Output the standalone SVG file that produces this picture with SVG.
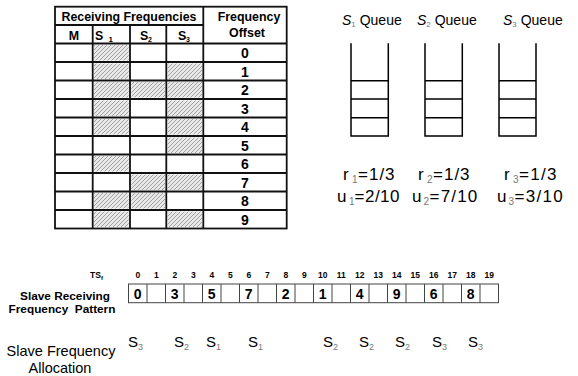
<svg xmlns="http://www.w3.org/2000/svg" width="578" height="376" viewBox="0 0 578 376">
<defs>
<pattern id="hatch" width="4" height="4" patternUnits="userSpaceOnUse">
<rect width="4" height="4" fill="#e8e8e8"/>
<path d="M-1,1 L1,-1 M0,4 L4,0 M3,5 L5,3" stroke="#9a9a9a" stroke-width="0.9"/>
</pattern>
<style>
text{font-family:"Liberation Sans",Arial,sans-serif;fill:#000}
.b{font-weight:bold}
.tl{stroke:#111;stroke-width:1.8;fill:none}
.q{stroke:#000;stroke-width:1.5;fill:none}
.h{fill:url(#hatch)}
.sub{fill:#777}
.cell{fill:#fff;stroke:#444;stroke-width:1}
</style>
</defs>
<rect width="578" height="376" fill="#fff"/>

<g id="table">
<g id="hatches">
<rect class="h" x="94" y="45" width="34.7" height="15.5"/>
<rect class="h" x="94" y="63.5" width="34.7" height="15.5"/>
<rect class="h" x="94" y="82" width="34.7" height="15.5"/>
<rect class="h" x="94" y="100.5" width="34.7" height="15.5"/>
<rect class="h" x="94" y="119" width="34.7" height="15.5"/>
<rect class="h" x="94" y="156" width="34.7" height="15.5"/>
<rect class="h" x="94" y="193" width="34.7" height="15.5"/>
<rect class="h" x="94" y="211.5" width="34.7" height="15.5"/>
<rect class="h" x="131.3" y="82" width="33.7" height="15.5"/>
<rect class="h" x="131.3" y="174.5" width="33.7" height="15.5"/>
<rect class="h" x="131.3" y="193" width="33.7" height="15.5"/>
<rect class="h" x="167.6" y="63.5" width="34.4" height="15.5"/>
<rect class="h" x="167.6" y="82" width="34.4" height="15.5"/>
<rect class="h" x="167.6" y="100.5" width="34.4" height="15.5"/>
<rect class="h" x="167.6" y="119" width="34.4" height="15.5"/>
<rect class="h" x="167.6" y="137.5" width="34.4" height="15.5"/>
<rect class="h" x="167.6" y="174.5" width="34.4" height="15.5"/>
<rect class="h" x="167.6" y="211.5" width="34.4" height="15.5"/>
</g>
<rect class="tl" x="55" y="6.7" width="231.7" height="221.8"/>
<path class="tl" d="M55,25 H203.3 M55,43.5 H286.7 M55,62 H286.7 M55,80.5 H286.7 M55,99 H286.7 M55,117.5 H286.7 M55,136 H286.7 M55,154.5 H286.7 M55,173 H286.7 M55,191.5 H286.7 M55,210 H286.7 M92.7,25 V228.5 M130,25 V228.5 M166.3,25 V228.5 M203.3,6.7 V228.5"/>
<text class="b" x="129" y="21" font-size="12.4" text-anchor="middle">Receiving Frequencies</text>
<text class="b" x="74" y="39.5" font-size="12.4" text-anchor="middle">M</text>
<text class="b" x="95" y="39.5" font-size="12.4">S<tspan x="108.5" dy="2" font-size="8">1</tspan></text>
<text class="b" x="140" y="39.5" font-size="12.4">S<tspan x="148" dy="2" font-size="7">2</tspan></text>
<text class="b" x="178" y="39.5" font-size="12.4">S<tspan x="186" dy="2" font-size="7">3</tspan></text>
<text class="b" x="249" y="21" font-size="12.4" text-anchor="middle">Frequency</text>
<text class="b" x="247" y="36.8" font-size="12.4" text-anchor="middle">Offset</text>
<g class="b" font-size="14" text-anchor="middle">
<text class="b" x="245" y="58">0</text>
<text class="b" x="245" y="76.5">1</text>
<text class="b" x="245" y="95">2</text>
<text class="b" x="245" y="113.5">3</text>
<text class="b" x="245" y="132">4</text>
<text class="b" x="245" y="150.5">5</text>
<text class="b" x="245" y="169">6</text>
<text class="b" x="245" y="187.5">7</text>
<text class="b" x="245" y="206">8</text>
<text class="b" x="245" y="224.5">9</text>
</g>
</g>

<g id="queue1">
<text x="342" y="25" font-size="14"><tspan font-style="italic">S</tspan><tspan class="sub" dy="2" font-size="8">1</tspan><tspan dy="-2"> Queue</tspan></text>
<path class="q" d="M351,43.3 V136 H388.3 V43.3 M351,80.7 H388.3 M351,99 H388.3 M351,117.7 H388.3"/>
<text x="343" y="180" font-size="17">r<tspan class="sub" x="352" dy="3" font-size="10">1</tspan><tspan x="358" dy="-3" letter-spacing="1">=1/3</tspan></text>
<text x="337" y="201.5" font-size="17">u<tspan class="sub" x="349" dy="3" font-size="10">1</tspan><tspan x="354.5" dy="-3" letter-spacing="0.5">=2/10</tspan></text>
</g>
<g id="queue2">
<text x="417" y="25" font-size="14"><tspan font-style="italic">S</tspan><tspan class="sub" dy="2" font-size="8">2</tspan><tspan dy="-2"> Queue</tspan></text>
<path class="q" d="M425,43.3 V136 H462.3 V43.3 M425,80.7 H462.3 M425,99 H462.3 M425,117.7 H462.3"/>
<text x="418" y="180" font-size="17">r<tspan class="sub" x="427" dy="3" font-size="10">2</tspan><tspan x="433" dy="-3" letter-spacing="1">=1/3</tspan></text>
<text x="412" y="201.5" font-size="17">u<tspan class="sub" x="423.5" dy="3" font-size="10">2</tspan><tspan x="429.5" dy="-3" letter-spacing="1.2">=7/10</tspan></text>
</g>
<g id="queue3">
<text x="503" y="25" font-size="14"><tspan font-style="italic">S</tspan><tspan class="sub" dy="2" font-size="8">3</tspan><tspan dy="-2"> Queue</tspan></text>
<path class="q" d="M499,43.3 V136 H536 V43.3 M499,80.7 H536 M499,99 H536 M499,117.7 H536"/>
<text x="504" y="180" font-size="17">r<tspan class="sub" x="513" dy="3" font-size="10">3</tspan><tspan x="519" dy="-3" letter-spacing="1.3">=1/3</tspan></text>
<text x="497" y="201.5" font-size="17">u<tspan class="sub" x="508.5" dy="3" font-size="10">3</tspan><tspan x="514.5" dy="-3" letter-spacing="1.3">=3/10</tspan></text>
</g>

<g id="slots">
<text class="b" x="90" y="278" font-size="8.5">TS<tspan dy="1.5" font-size="6">f</tspan></text>
<g class="b" font-size="8.5" text-anchor="middle">
<text class="b" x="137.75" y="278">0</text>
<text class="b" x="156.25" y="278">1</text>
<text class="b" x="174.75" y="278">2</text>
<text class="b" x="193.25" y="278">3</text>
<text class="b" x="211.75" y="278">4</text>
<text class="b" x="230.25" y="278">5</text>
<text class="b" x="248.75" y="278">6</text>
<text class="b" x="267.25" y="278">7</text>
<text class="b" x="285.75" y="278">8</text>
<text class="b" x="304.25" y="278">9</text>
<text class="b" x="322.75" y="278">10</text>
<text class="b" x="341.25" y="278">11</text>
<text class="b" x="359.75" y="278">12</text>
<text class="b" x="378.25" y="278">13</text>
<text class="b" x="396.75" y="278">14</text>
<text class="b" x="415.25" y="278">15</text>
<text class="b" x="433.75" y="278">16</text>
<text class="b" x="452.25" y="278">17</text>
<text class="b" x="470.75" y="278">18</text>
<text class="b" x="489.25" y="278">19</text>
</g>
<rect class="cell" x="128.5" y="284" width="370" height="18.7"/>
<path stroke="#444" stroke-width="1" d="M147,284 V302.7 M165.5,284 V302.7 M184,284 V302.7 M202.5,284 V302.7 M221,284 V302.7 M239.5,284 V302.7 M258,284 V302.7 M276.5,284 V302.7 M295,284 V302.7 M313.5,284 V302.7 M332,284 V302.7 M350.5,284 V302.7 M369,284 V302.7 M387.5,284 V302.7 M406,284 V302.7 M424.5,284 V302.7 M443,284 V302.7 M461.5,284 V302.7 M480,284 V302.7"/>
<g class="b" font-size="14" text-anchor="middle">
<text class="b" x="137.75" y="299">0</text>
<text class="b" x="174.75" y="299">3</text>
<text class="b" x="211.75" y="299">5</text>
<text class="b" x="248.75" y="299">7</text>
<text class="b" x="285.75" y="299">2</text>
<text class="b" x="322.75" y="299">1</text>
<text class="b" x="359.75" y="299">4</text>
<text class="b" x="396.75" y="299">9</text>
<text class="b" x="433.75" y="299">6</text>
<text class="b" x="470.75" y="299">8</text>
</g>
<text class="b" x="65" y="299.5" font-size="11.8" text-anchor="middle">Slave Receiving</text>
<text class="b" x="62" y="312.5" font-size="11.8" text-anchor="middle" xml:space="preserve">Frequency  Pattern</text>
</g>

<g id="allocation">
<text x="61" y="356" font-size="14.5" text-anchor="middle">Slave Frequency</text>
<text x="60" y="373" font-size="14.5" text-anchor="middle">Allocation</text>
<g font-size="15">
<text x="128" y="346.5">S<tspan class="sub" dy="3" font-size="9">3</tspan></text>
<text x="174" y="346.5">S<tspan class="sub" dy="3" font-size="9">2</tspan></text>
<text x="206" y="346.5">S<tspan class="sub" dy="3" font-size="9">1</tspan></text>
<text x="248" y="346.5">S<tspan class="sub" dy="3" font-size="9">1</tspan></text>
<text x="323" y="346.5">S<tspan class="sub" dy="3" font-size="9">2</tspan></text>
<text x="359" y="346.5">S<tspan class="sub" dy="3" font-size="9">2</tspan></text>
<text x="395" y="346.5">S<tspan class="sub" dy="3" font-size="9">2</tspan></text>
<text x="432" y="346.5">S<tspan class="sub" dy="3" font-size="9">3</tspan></text>
<text x="468" y="346.5">S<tspan class="sub" dy="3" font-size="9">3</tspan></text>
</g>
</g>
</svg>
